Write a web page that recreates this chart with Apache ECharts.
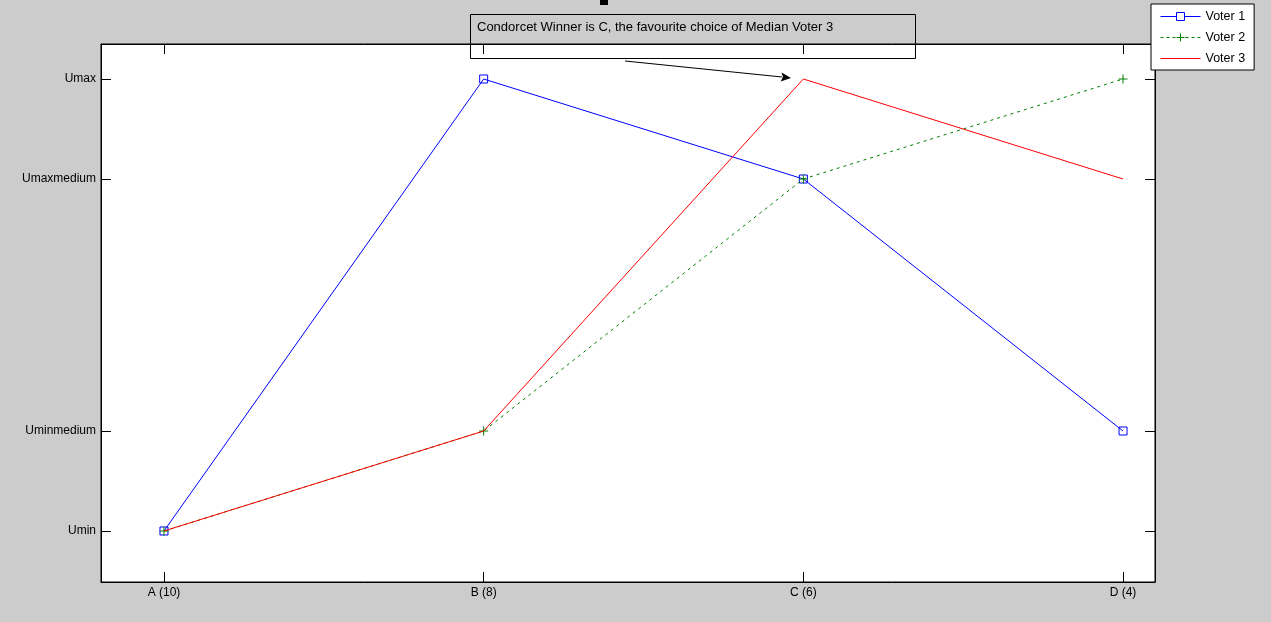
<!DOCTYPE html>
<html><head><meta charset="utf-8">
<script src="https://cdn.jsdelivr.net/npm/echarts@6/dist/echarts.min.js"></script>
<style>html,body{margin:0;padding:0;background:#cccccc;}#c{width:1271px;height:622px;}</style>
</head><body><div id="c"></div>
<script>
const categories = ['A (10)', 'B (8)', 'C (6)', 'D (4)'];
const yTickValues = [1, 2, 4.52, 5.52];
const yTickLabels = ['Umin', 'Uminmedium', 'Umaxmedium', 'Umax'];
const voterNames = ['Voter 1', 'Voter 2', 'Voter 3'];
const voter1 = [1, 5.52, 4.52, 2];
const voter2 = [1, 2, 4.52, 5.52];
const voter3 = [1, 2, 5.52, 4.52];
const annotationText = 'Condorcet Winner is C, the favourite choice of Median Voter 3';

const FONT = 'Liberation Sans, Arial, sans-serif';
const xPos = categories.map((_, i) => i + 1);
const toData = arr => arr.map((v, i) => [i + 1, v]);

const chart = echarts.init(document.getElementById('c'), null, {renderer: 'canvas'});
const tickStyle = {show: true, inside: true, length: 10, lineStyle: {color: '#000', width: 1}};
const plus = 'path://M0,5L10,5M5,0L5,10';

// legend icons: 40x10 boxes (the leading moves fix the bounding box)
const iconV1 = 'path://M0,0M40,10M0,5L16,5M24,5L40,5M16,1L24,1L24,9L16,9Z';
const iconV2 = 'path://M0,0M40,10M0,5L3,5M6,5L9,5M12,5L15,5M25,5L28,5M31,5L34,5M37,5L40,5M20,1L20,9M16,5L24,5';
const iconV3 = 'path://M0,0M40,10M0,5L40,5';

chart.setOption({
  backgroundColor: '#cccccc',
  animation: false,
  grid: {left: 101, right: 116, top: 44, bottom: 40, show: true, backgroundColor: '#ffffff', borderColor: '#000', borderWidth: 1},
  xAxis: [
    {type: 'value', min: 0.803, max: 4.1, position: 'bottom',
     axisLine: {show: true, lineStyle: {color: '#000'}},
     axisTick: Object.assign({customValues: xPos}, tickStyle),
     axisLabel: {customValues: xPos, formatter: v => categories[Math.round(v) - 1] || '', color: '#000', fontFamily: FONT, fontSize: 12, margin: 5},
     splitLine: {show: false}},
    {type: 'value', min: 0.803, max: 4.1, position: 'top',
     axisLine: {show: true, lineStyle: {color: '#000'}},
     axisTick: Object.assign({customValues: xPos}, tickStyle),
     axisLabel: {show: false}, splitLine: {show: false}}
  ],
  yAxis: [
    {type: 'value', min: 0.49, max: 5.87, position: 'left',
     axisLine: {show: true, lineStyle: {color: '#000'}},
     axisTick: Object.assign({customValues: yTickValues}, tickStyle),
     axisLabel: {customValues: yTickValues, formatter: v => { const i = yTickValues.findIndex(t => Math.abs(t - v) < 1e-6); return i >= 0 ? yTickLabels[i] : ''; }, color: '#000', fontFamily: FONT, fontSize: 12, margin: 5},
     splitLine: {show: false}},
    {type: 'value', min: 0.49, max: 5.87, position: 'right',
     axisLine: {show: true, lineStyle: {color: '#000'}},
     axisTick: Object.assign({customValues: yTickValues}, tickStyle),
     axisLabel: {show: false}, splitLine: {show: false}}
  ],
  legend: {
    orient: 'vertical', left: 1151, top: 4, backgroundColor: '#fff', borderColor: '#000', borderWidth: 1, borderRadius: 0,
    padding: [5, 9, 4, 7], itemWidth: 40, itemHeight: 10, itemGap: 6,
    textStyle: {fontFamily: FONT, fontSize: 12.5, color: '#000'},
    data: [
      {name: voterNames[0], icon: iconV1, itemStyle: {color: 'none', borderColor: '#0000ff', borderWidth: 1}},
      {name: voterNames[1], icon: iconV2, itemStyle: {color: 'none', borderColor: '#008000', borderWidth: 1}},
      {name: voterNames[2], icon: iconV3, itemStyle: {color: 'none', borderColor: '#ff0000', borderWidth: 1}}
    ]
  },
  series: [
    {name: voterNames[0], type: 'line', data: toData(voter1), symbol: 'rect', symbolSize: 8, showSymbol: true,
     lineStyle: {color: '#0000ff', width: 1}, itemStyle: {color: 'rgba(0,0,0,0)', borderColor: '#0000ff', borderWidth: 1}, z: 2},
    {name: voterNames[1], type: 'line', data: toData(voter2), symbol: plus, symbolSize: 9,
     lineStyle: {color: '#008000', width: 1, type: [3, 4]}, itemStyle: {color: 'rgba(0,0,0,0)', borderColor: '#008000', borderWidth: 1}, z: 3},
    {name: voterNames[2], type: 'line', data: toData(voter3), symbol: 'circle', showSymbol: false,
     lineStyle: {color: '#ff0000', width: 1}, itemStyle: {color: 'rgba(255,0,0,0)', borderWidth: 0}, z: 4}
  ],
  graphic: [
    {type: 'rect', shape: {x: 600, y: 0, width: 8, height: 5}, style: {fill: '#000'}, z: 100},
    {type: 'rect', shape: {x: 470.5, y: 14.5, width: 445, height: 44}, style: {fill: 'none', stroke: '#000', lineWidth: 1}, z: 100},
    {type: 'text', x: 477, y: 27, style: {text: annotationText, font: '13px ' + FONT, fill: '#000', textVerticalAlign: 'middle'}, z: 100},
    {type: 'line', shape: {x1: 625, y1: 61, x2: 782, y2: 77}, style: {stroke: '#000', lineWidth: 1}, z: 100},
    {type: 'polygon', shape: {points: [[791, 78], [780.6, 81.5], [783, 77], [781.5, 72.5]]}, style: {fill: '#000'}, z: 100}
  ]
});
</script></body></html>
